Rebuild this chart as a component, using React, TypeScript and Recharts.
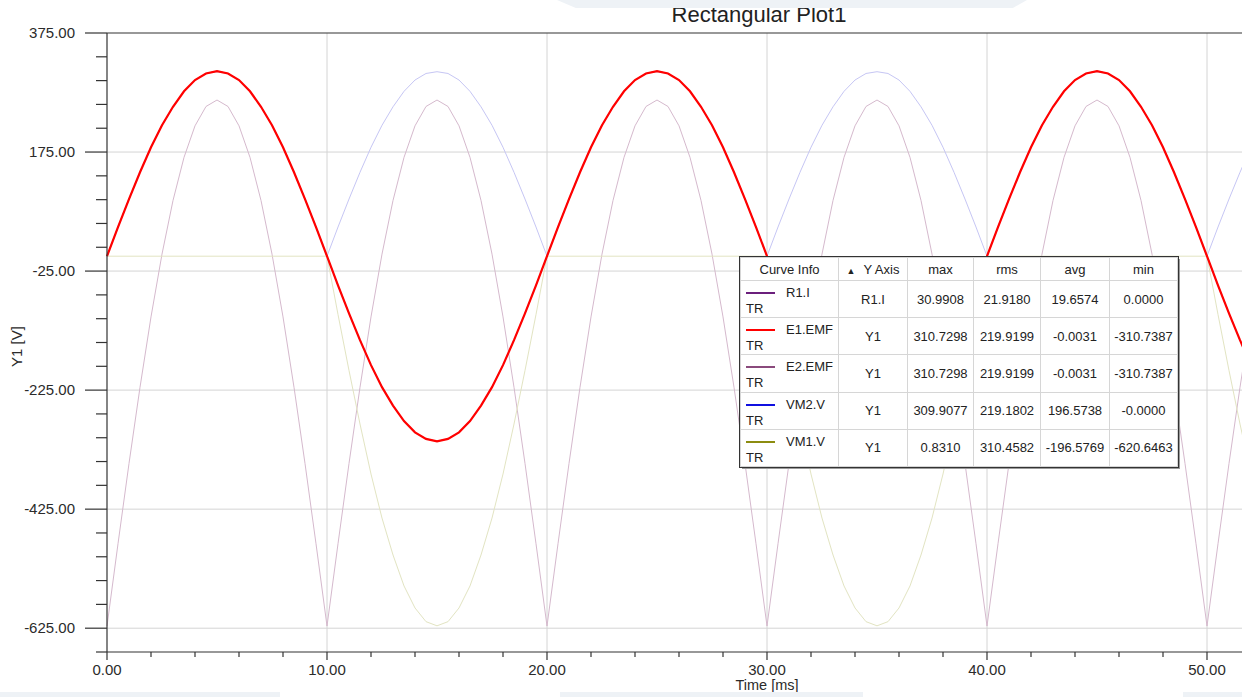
import { LineChart, Line, XAxis, YAxis, ReferenceLine, Label } from "recharts";

// time axis, ms (0.5 ms steps)
const TIME_MS = [
  0, 0.5, 1, 1.5, 2, 2.5, 3, 3.5, 4, 4.5, 5, 5.5, 6, 6.5, 7, 7.5, 8, 8.5, 9, 9.5,
  10, 10.5, 11, 11.5, 12, 12.5, 13, 13.5, 14, 14.5, 15, 15.5, 16, 16.5, 17, 17.5, 18, 18.5, 19, 19.5,
  20, 20.5, 21, 21.5, 22, 22.5, 23, 23.5, 24, 24.5, 25, 25.5, 26, 26.5, 27, 27.5, 28, 28.5, 29, 29.5,
  30, 30.5, 31, 31.5, 32, 32.5, 33, 33.5, 34, 34.5, 35, 35.5, 36, 36.5, 37, 37.5, 38, 38.5, 39, 39.5,
  40, 40.5, 41, 41.5, 42, 42.5, 43, 43.5, 44, 44.5, 45, 45.5, 46, 46.5, 47, 47.5, 48, 48.5, 49, 49.5,
  50, 50.5, 51, 51.5, 52,
];

const E1_EMF = [
  0, 49, 96, 141, 183, 220, 251, 277, 296, 307, 311, 307, 296, 277, 251, 220, 183, 141, 96, 49,
  0, -49, -96, -141, -183, -220, -251, -277, -296, -307, -311, -307, -296, -277, -251, -220, -183, -141, -96, -49,
  0, 49, 96, 141, 183, 220, 251, 277, 296, 307, 311, 307, 296, 277, 251, 220, 183, 141, 96, 49,
  0, -49, -96, -141, -183, -220, -251, -277, -296, -307, -311, -307, -296, -277, -251, -220, -183, -141, -96, -49,
  0, 49, 96, 141, 183, 220, 251, 277, 296, 307, 311, 307, 296, 277, 251, 220, 183, 141, 96, 49,
  0, -49, -96, -141, -183,
];

// same waveform as E1, drawn underneath it
const E2_EMF = [
  0, 49, 96, 141, 183, 220, 251, 277, 296, 307, 311, 307, 296, 277, 251, 220, 183, 141, 96, 49,
  0, -49, -96, -141, -183, -220, -251, -277, -296, -307, -311, -307, -296, -277, -251, -220, -183, -141, -96, -49,
  0, 49, 96, 141, 183, 220, 251, 277, 296, 307, 311, 307, 296, 277, 251, 220, 183, 141, 96, 49,
  0, -49, -96, -141, -183, -220, -251, -277, -296, -307, -311, -307, -296, -277, -251, -220, -183, -141, -96, -49,
  0, 49, 96, 141, 183, 220, 251, 277, 296, 307, 311, 307, 296, 277, 251, 220, 183, 141, 96, 49,
  0, -49, -96, -141, -183,
];

const VM2_V = [
  0, 49, 96, 141, 183, 220, 251, 277, 296, 307, 310, 307, 296, 277, 251, 220, 183, 141, 96, 49,
  0, 49, 96, 141, 183, 220, 251, 277, 296, 307, 310, 307, 296, 277, 251, 220, 183, 141, 96, 49,
  0, 49, 96, 141, 183, 220, 251, 277, 296, 307, 310, 307, 296, 277, 251, 220, 183, 141, 96, 49,
  0, 49, 96, 141, 183, 220, 251, 277, 296, 307, 310, 307, 296, 277, 251, 220, 183, 141, 96, 49,
  0, 49, 96, 141, 183, 220, 251, 277, 296, 307, 310, 307, 296, 277, 251, 220, 183, 141, 96, 49,
  0, 49, 96, 141, 183,
];

const VM1_V = [
  0, 0, 0, 0, 0, 0, 0, 0, 0, 0, 0, 0, 0, 0, 0, 0, 0, 0, 0, 0,
  0, -98, -192, -282, -366, -440, -502, -554, -591, -614, -621, -614, -591, -554, -502, -440, -366, -282, -192, -98,
  0, 0, 0, 0, 0, 0, 0, 0, 0, 0, 0, 0, 0, 0, 0, 0, 0, 0, 0, 0,
  0, -98, -192, -282, -366, -440, -502, -554, -591, -614, -621, -614, -591, -554, -502, -440, -366, -282, -192, -98,
  0, 0, 0, 0, 0, 0, 0, 0, 0, 0, 0, 0, 0, 0, 0, 0, 0, 0, 0, 0,
  0, -98, -192, -282, -366,
];

// R1.I in A, on its own (hidden) axis
const R1_I = [
  0, 4.85, 9.58, 14.07, 18.22, 21.92, 25.08, 27.62, 29.48, 30.62, 31.0, 30.62, 29.48, 27.62, 25.08, 21.92, 18.22, 14.07, 9.58, 4.85,
  0, 4.85, 9.58, 14.07, 18.22, 21.92, 25.08, 27.62, 29.48, 30.62, 31.0, 30.62, 29.48, 27.62, 25.08, 21.92, 18.22, 14.07, 9.58, 4.85,
  0, 4.85, 9.58, 14.07, 18.22, 21.92, 25.08, 27.62, 29.48, 30.62, 31.0, 30.62, 29.48, 27.62, 25.08, 21.92, 18.22, 14.07, 9.58, 4.85,
  0, 4.85, 9.58, 14.07, 18.22, 21.92, 25.08, 27.62, 29.48, 30.62, 31.0, 30.62, 29.48, 27.62, 25.08, 21.92, 18.22, 14.07, 9.58, 4.85,
  0, 4.85, 9.58, 14.07, 18.22, 21.92, 25.08, 27.62, 29.48, 30.62, 31.0, 30.62, 29.48, 27.62, 25.08, 21.92, 18.22, 14.07, 9.58, 4.85,
  0, 4.85, 9.58, 14.07, 18.22,
];

const X_TICKS = [0, 2, 4, 6, 8, 10, 12, 14, 16, 18, 20, 22, 24, 26, 28, 30, 32, 34, 36, 38, 40, 42, 44, 46, 48, 50, 52];
const X_MAJOR = [0, 10, 20, 30, 40, 50];
const Y_TICKS = [
  375, 335, 295, 255, 215, 175, 135, 95, 55, 15, -25, -65, -105, -145, -185, -225, -265, -305, -345, -385,
  -425, -465, -505, -545, -585, -625, -665,
];
const Y_MAJOR = [375, 175, -25, -225, -425, -625];

// curve info table
const CURVE_NAMES = ["R1.I", "E1.EMF", "E2.EMF", "VM2.V", "VM1.V"];
const CURVE_COLORS = ["#6b1f7c", "#ff0000", "#8a4a7c", "#1010e0", "#8c8c10"];
const CURVE_AXES = ["R1.I", "Y1", "Y1", "Y1", "Y1"];
const CURVE_MAX = ["30.9908", "310.7298", "310.7298", "309.9077", "0.8310"];
const CURVE_RMS = ["21.9180", "219.9199", "219.9199", "219.1802", "310.4582"];
const CURVE_AVG = ["19.6574", "-0.0031", "-0.0031", "196.5738", "-196.5769"];
const CURVE_MIN = ["0.0000", "-310.7387", "-310.7387", "-0.0000", "-620.6463"];

const data = TIME_MS.map((t, i) => ({
  t,
  r1i: R1_I[i],
  e1: E1_EMF[i],
  e2: E2_EMF[i],
  vm2: VM2_V[i],
  vm1: VM1_V[i],
}));

const FONT = '"Liberation Sans", Arial, sans-serif';
const AXIS = "#333";
const GRID = "#d4d4d4";
const TEXT = "#2b2b2b";

function YTick(props: any) {
  const { x, y, payload } = props;
  const major = Y_MAJOR.includes(payload.value);
  return (
    <g>
      <line x1={x - (major ? 22 : 11)} x2={x} y1={y} y2={y} stroke={AXIS} strokeWidth={1.2} />
      {major && (
        <text x={x - 32} y={y} dy={5} textAnchor="end" fontSize={15} fill={TEXT} fontFamily={FONT}>
          {payload.value.toFixed(2)}
        </text>
      )}
    </g>
  );
}

function XTick(props: any) {
  const { x, y, payload } = props;
  const major = X_MAJOR.includes(payload.value);
  return (
    <g>
      <line x1={x} x2={x} y1={y} y2={y + (major ? 8 : 5)} stroke={AXIS} strokeWidth={1.2} />
      {major && (
        <text x={x} y={y + 23} textAnchor="middle" fontSize={15} fill={TEXT} fontFamily={FONT}>
          {payload.value.toFixed(2)}
        </text>
      )}
    </g>
  );
}

function YTitle(props: any) {
  const { x, y, height } = props.viewBox;
  return (
    <text
      transform={`translate(${x + 22},${y + height / 2 + 4}) rotate(-90)`}
      textAnchor="middle"
      fontSize={15}
      fill={TEXT}
      fontFamily={FONT}
    >
      Y1 [V]
    </text>
  );
}

function XTitle(props: any) {
  const { x, y, width } = props.viewBox;
  return (
    <text x={x + width / 2} y={y + 38} textAnchor="middle" fontSize={14.5} fill={TEXT} fontFamily={FONT}>
      Time [ms]
    </text>
  );
}

const COL_W = [98, 69, 66, 67, 69, 68];
const ROW_H = 37.2;

function CurveTable() {
  const cell: React.CSSProperties = {
    border: "1px solid #d6d6d6",
    padding: 0,
    textAlign: "center",
    fontSize: 13,
    color: "#222",
  };
  return (
    <table
      style={{
        position: "absolute",
        left: 740,
        top: 257,
        borderCollapse: "collapse",
        tableLayout: "fixed",
        background: "#fff",
        outline: "1px solid #333",
        boxShadow: "2px 2px 0 #9a9a9a",
        fontFamily: FONT,
      }}
    >
      <colgroup>
        {COL_W.map((w, i) => (
          <col key={i} style={{ width: w }} />
        ))}
      </colgroup>
      <tbody>
        <tr style={{ height: 23 }}>
          <td style={cell}>Curve Info</td>
          <td style={cell}>
            <span style={{ fontSize: 9, marginRight: 8 }}>▲</span>Y Axis
          </td>
          <td style={cell}>max</td>
          <td style={cell}>rms</td>
          <td style={cell}>avg</td>
          <td style={cell}>min</td>
        </tr>
        {CURVE_NAMES.map((name, i) => (
          <tr key={name} style={{ height: ROW_H }}>
            <td style={{ ...cell, position: "relative", textAlign: "left" }}>
              <div
                style={{
                  position: "absolute",
                  left: 5,
                  top: 11,
                  width: 29,
                  height: 2,
                  background: CURVE_COLORS[i],
                }}
              />
              <div style={{ position: "absolute", left: 45, top: 4 }}>{name}</div>
              <div style={{ position: "absolute", left: 5, top: 20 }}>TR</div>
            </td>
            <td style={cell}>{CURVE_AXES[i]}</td>
            <td style={cell}>{CURVE_MAX[i]}</td>
            <td style={cell}>{CURVE_RMS[i]}</td>
            <td style={cell}>{CURVE_AVG[i]}</td>
            <td style={cell}>{CURVE_MIN[i]}</td>
          </tr>
        ))}
      </tbody>
    </table>
  );
}

export default function App() {
  return (
    <div
      style={{
        position: "absolute",
        left: 0,
        top: 0,
        width: 1242,
        height: 697,
        overflow: "hidden",
        background: "#fff",
        fontFamily: FONT,
      }}
    >
      <div
        style={{
          position: "absolute",
          left: 759,
          top: 4,
          transform: "translateX(-50%)",
          fontSize: 22,
          lineHeight: 1,
          color: "#222",
          whiteSpace: "nowrap",
        }}
      >
        Rectangular Plot1
      </div>
      <LineChart
        width={1430}
        height={697}
        data={data}
        margin={{ top: 33, right: 3, bottom: 0, left: 0 }}
        style={{ position: "absolute", left: 0, top: 0 }}
      >
        {Y_MAJOR.slice(1).map((v) => (
          <ReferenceLine key={"h" + v} y={v} yAxisId="v" stroke={GRID} />
        ))}
        {X_MAJOR.slice(1).map((v) => (
          <ReferenceLine key={"v" + v} x={v} yAxisId="v" stroke={GRID} />
        ))}
        <ReferenceLine y={375} yAxisId="v" stroke={AXIS} strokeWidth={1.2} />
        <XAxis
          dataKey="t"
          type="number"
          domain={[0, 60]}
          ticks={X_TICKS}
          interval={0}
          tick={<XTick />}
          tickLine={false}
          tickSize={0}
          tickMargin={0}
          height={45}
          axisLine={{ stroke: AXIS, strokeWidth: 1.2 }}
        >
          <Label content={<XTitle />} />
        </XAxis>
        <YAxis
          yAxisId="v"
          type="number"
          domain={[-665, 375]}
          ticks={Y_TICKS}
          interval={0}
          tick={<YTick />}
          tickLine={false}
          tickSize={0}
          tickMargin={0}
          width={107}
          axisLine={{ stroke: AXIS, strokeWidth: 1.2 }}
        >
          <Label content={<YTitle />} />
        </YAxis>
        <YAxis yAxisId="r" orientation="right" type="number" domain={[-1.53, 34.95]} hide />
        <Line yAxisId="r" dataKey="r1i" stroke="#d5b9cd" strokeWidth={1} dot={false} isAnimationActive={false} />
        <Line yAxisId="v" dataKey="vm1" stroke="#e2e4c2" strokeWidth={1} dot={false} isAnimationActive={false} />
        <Line yAxisId="v" dataKey="vm2" stroke="#c6c6f4" strokeWidth={1} dot={false} isAnimationActive={false} />
        <Line yAxisId="v" dataKey="e2" stroke="#8a4a7c" strokeWidth={1} dot={false} isAnimationActive={false} />
        <Line yAxisId="v" dataKey="e1" stroke="#ff0000" strokeWidth={2.2} dot={false} isAnimationActive={false} />
      </LineChart>
      <CurveTable />
      {/* pale screenshot bands */}
      <div
        style={{
          position: "absolute",
          left: 557,
          top: 0,
          width: 470,
          height: 8,
          background: "#eef2f6",
          clipPath: "polygon(0 0, 100% 0, 97% 100%, 4% 100%)",
        }}
      />
      <div style={{ position: "absolute", left: 0, top: 692, width: 280, height: 5, background: "#eef2f6" }} />
      <div style={{ position: "absolute", left: 560, top: 692, width: 303, height: 5, background: "#eef2f6" }} />
      <div style={{ position: "absolute", left: 1183, top: 692, width: 59, height: 5, background: "#eef2f6" }} />
    </div>
  );
}
